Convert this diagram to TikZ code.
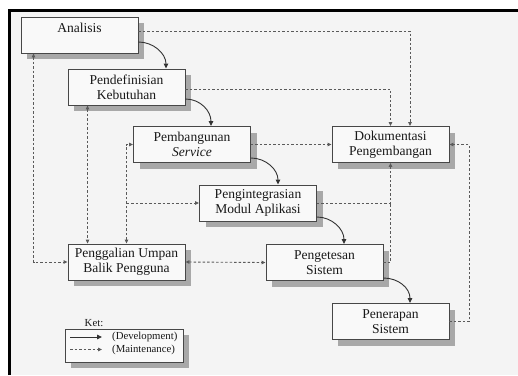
\documentclass[tikz,border=0pt]{standalone}
\usepackage{fontspec}
\setmainfont{Liberation Serif}
\usetikzlibrary{arrows.meta,shadows}
\definecolor{framebg}{HTML}{F4F4F4}
\definecolor{boxfill}{HTML}{F9F9F9}
\definecolor{boxline}{HTML}{474747}
\definecolor{shadowgray}{HTML}{A8A8A8}
\definecolor{linegray}{HTML}{5A5A5A}

\begin{document}
\begin{tikzpicture}[x=1bp,y=-1bp,
	tahap/.style={draw=boxline,line width=0.9bp,fill=boxfill,align=center,text=black!90,
		minimum width=117bp,minimum height=36bp,inner sep=1bp,
		font=\fontsize{13.6}{15}\selectfont,
		drop shadow={shadow xshift=6bp,shadow yshift=-6bp,fill=shadowgray,opacity=1}},
	devel/.style={draw=black!80,line width=0.9bp,>={Triangle[length=5bp,width=4.5bp]},->},
	maint/.style={draw=linegray,line width=0.9bp,dash pattern=on 2.5bp off 2bp,
		>={Triangle[length=4bp,width=3.5bp]},->},
	ket/.style={font=\fontsize{10.8}{12}\selectfont,inner sep=0pt,text=black!90}]
	\useasboundingbox (0,0) rectangle (518,375);
	\fill[white] (0,0) rectangle (518,375);
	\fill[framebg] (9,10) rectangle (518,375);
	\draw[line width=3bp] (9,375) -- (9,10) -- (518,10);

	\node[tahap] (ana) at (79.5,35) {Analisis\\ \mbox{}};
	\node[tahap] (pendef) at (126.5,87) {Pendefinisian\\ Kebutuhan};
	\node[tahap] (pemb) at (192,144.5) {Pembangunan\\ \textit{Service}};
	\node[tahap] (dok) at (390.5,144.5) {Dokumentasi\\ Pengembangan};
	\node[tahap] (integ) at (258,203) {Pengintegrasian\\ Modul Aplikasi};
	\node[tahap] (gali) at (126.5,262) {Penggalian Umpan\\ Balik Pengguna};
	\node[tahap] (tes) at (324.5,262.5) {Pengetesan\\ Sistem};
	\node[tahap] (terap) at (390.5,321.5) {Penerapan\\ Sistem};

	\node[tahap,minimum width=118bp,minimum height=33bp] (ketbox) at (124,345.5) {};
	\node[ket] (ketlbl) at (94,323) {Ket:};
	\node[ket,anchor=west] (kdev) at (112,337) {(Development)};
	\node[ket,anchor=west] (kmnt) at (112,349.5) {(Maintenance)};
	\coordinate (kd0) at (70,337);
	\coordinate (km0) at (70,349.5);
	\draw[devel] (kd0) -- ([xshift=-10bp]kdev.west);
	\draw[maint] (km0) -- ([xshift=-10bp]kmnt.west);

	\draw[devel] ([yshift=-7bp]ana.east) .. controls +(15,0) and +(0,-15) .. ([xshift=39.5bp]pendef.north);
	\draw[devel] ([yshift=-12bp]pendef.east) .. controls +(15,0) and +(0,-15) .. ([xshift=19bp]pemb.north);
	\draw[devel] ([yshift=-13.5bp]pemb.east) .. controls +(15,0) and +(0,-15) .. ([xshift=20bp]integ.north);
	\draw[devel] ([yshift=-14bp]integ.east) .. controls +(15,0) and +(0,-15) .. ([xshift=19.5bp]tes.north);
	\draw[devel] ([yshift=-15.5bp]tes.east) .. controls +(15,0) and +(0,-15) .. ([xshift=19.5bp]terap.north);

	\draw[maint] ([yshift=4bp]ana.east) -| ([xshift=19.5bp]dok.north);
	\draw[maint] ([yshift=-2bp]pendef.east) -| (dok.north);
	\draw[maint] (pemb.east) -- (dok.west);
	\draw[maint] (integ.east) -| (dok.south);
	\draw[maint,-] (tes.east) -| (dok.south |- integ.east);
	\draw[maint] (terap.east) -- ++(20,0) |- (dok.east);
	\draw[maint,<->] ([xshift=13bp]ana.south west) |- (gali.west);
	\draw[maint,<->] ([xshift=20bp]pendef.south west) -- ([xshift=20bp]gali.north west);
	\draw[maint,<->] (gali.north) |- (pemb.west);
	\draw[maint] (gali.north |- integ.west) -- (integ.west);
	\draw[maint,<->] (gali.east) -- (tes.west);
\end{tikzpicture}
\end{document}
